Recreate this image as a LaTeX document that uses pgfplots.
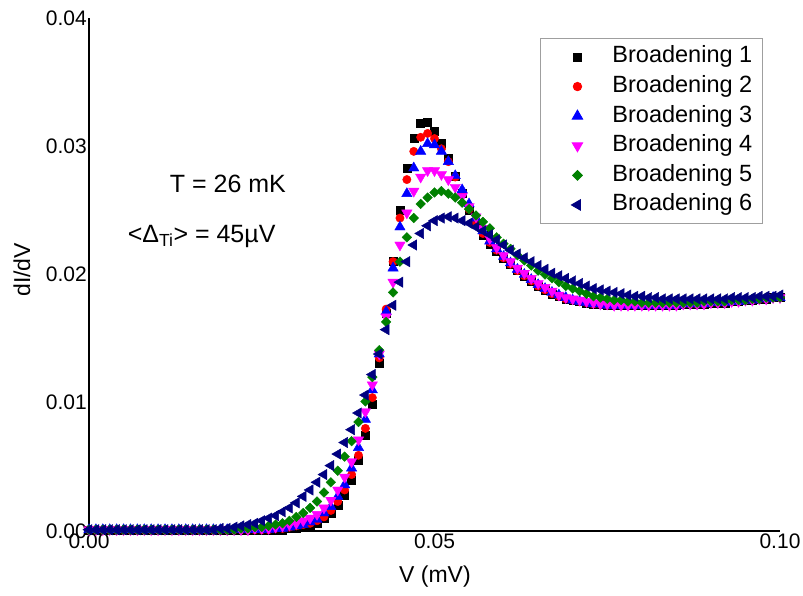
\documentclass[border=0pt]{standalone}
\usepackage{fontspec}
\setmainfont{Liberation Sans}
\usepackage{pgfplots}
\pgfplotsset{compat=1.18}
\usepackage{pgfplotstable}

\definecolor{mgreen}{RGB}{0,128,0}
\definecolor{mnavy}{RGB}{0,0,128}
\definecolor{mmag}{RGB}{255,0,255}

% dI/dV versus bias V (mV) for six broadening values
\pgfplotstableread{
x     b1     b2     b3     b4     b5     b6
0.000 0.0001 0.0001 0.0001 0.0001 0.0001 0.0001
0.001 0.0001 0.0001 0.0001 0.0001 0.0001 0.0001
0.002 0.0001 0.0001 0.0001 0.0001 0.0001 0.0001
0.003 0.0001 0.0001 0.0001 0.0001 0.0001 0.0001
0.004 0.0001 0.0001 0.0001 0.0001 0.0001 0.0001
0.005 0.0001 0.0001 0.0001 0.0001 0.0001 0.0001
0.006 0.0001 0.0001 0.0001 0.0001 0.0001 0.0001
0.007 0.0001 0.0001 0.0001 0.0001 0.0001 0.0001
0.008 0.0001 0.0001 0.0001 0.0001 0.0001 0.0001
0.009 0.0001 0.0001 0.0001 0.0001 0.0001 0.0001
0.010 0.0001 0.0001 0.0001 0.0001 0.0001 0.0001
0.011 0.0001 0.0001 0.0001 0.0001 0.0001 0.0001
0.012 0.0001 0.0001 0.0001 0.0001 0.0001 0.0001
0.013 0.0001 0.0001 0.0001 0.0001 0.0001 0.0001
0.014 0.0001 0.0001 0.0001 0.0001 0.0001 0.0001
0.015 0.0001 0.0001 0.0001 0.0001 0.0001 0.0001
0.016 0.0001 0.0001 0.0001 0.0001 0.0001 0.0001
0.017 0.0001 0.0001 0.0001 0.0001 0.0001 0.0001
0.018 0.0001 0.0001 0.0001 0.0001 0.0001 0.0001
0.019 0.0001 0.0001 0.0001 0.0001 0.0001 0.0002
0.020 0.0001 0.0001 0.0001 0.0001 0.0001 0.0002
0.021 0.0001 0.0001 0.0001 0.0001 0.0001 0.0003
0.022 0.0001 0.0001 0.0001 0.0001 0.0002 0.0004
0.023 0.0001 0.0001 0.0001 0.0001 0.0002 0.0005
0.024 0.0001 0.0001 0.0001 0.0002 0.0003 0.0006
0.025 0.0001 0.0001 0.0001 0.0002 0.0003 0.0008
0.026 0.0001 0.0001 0.0001 0.0002 0.0004 0.0010
0.027 0.0001 0.0002 0.0002 0.0003 0.0005 0.0012
0.028 0.0001 0.0002 0.0002 0.0004 0.0006 0.0015
0.029 0.0002 0.0003 0.0003 0.0005 0.0008 0.0018
0.030 0.0002 0.0004 0.0004 0.0006 0.0011 0.0022
0.031 0.0003 0.0005 0.0005 0.0008 0.0014 0.0027
0.032 0.0004 0.0006 0.0007 0.0010 0.0018 0.0032
0.033 0.0006 0.0008 0.0009 0.0013 0.0023 0.0038
0.034 0.0010 0.0011 0.0014 0.0018 0.0030 0.0044
0.035 0.0014 0.0016 0.0019 0.0024 0.0038 0.0051
0.036 0.0020 0.0023 0.0027 0.0032 0.0047 0.0060
0.037 0.0028 0.0032 0.0036 0.0042 0.0058 0.0069
0.038 0.0040 0.0044 0.0049 0.0054 0.0070 0.0079
0.039 0.0055 0.0059 0.0065 0.0071 0.0085 0.0092
0.040 0.0075 0.0080 0.0087 0.0093 0.0101 0.0106
0.041 0.0099 0.0104 0.0110 0.0114 0.0120 0.0122
0.042 0.0131 0.0135 0.0138 0.0138 0.0141 0.0138
0.043 0.0170 0.0173 0.0171 0.0167 0.0163 0.0157
0.044 0.0210 0.0210 0.0205 0.0194 0.0186 0.0176
0.045 0.0250 0.0244 0.0237 0.0223 0.0210 0.0194
0.046 0.0283 0.0274 0.0263 0.0248 0.0229 0.0210
0.047 0.0306 0.0296 0.0283 0.0265 0.0244 0.0223
0.048 0.0318 0.0307 0.0296 0.0276 0.0255 0.0232
0.049 0.0319 0.0310 0.0302 0.0281 0.0260 0.0238
0.050 0.0312 0.0306 0.0301 0.0281 0.0264 0.0242
0.051 0.0302 0.0298 0.0296 0.0278 0.0265 0.0244
0.052 0.0291 0.0288 0.0288 0.0274 0.0263 0.0245
0.053 0.0277 0.0276 0.0277 0.0268 0.0260 0.0244
0.054 0.0263 0.0263 0.0266 0.0261 0.0256 0.0242
0.055 0.0250 0.0251 0.0255 0.0253 0.0251 0.0240
0.056 0.0240 0.0241 0.0244 0.0245 0.0246 0.0237
0.057 0.0231 0.0232 0.0234 0.0236 0.0241 0.0234
0.058 0.0224 0.0225 0.0226 0.0228 0.0236 0.0231
0.059 0.0218 0.0219 0.0220 0.0221 0.0229 0.0227
0.060 0.0213 0.0213 0.0214 0.0215 0.0224 0.0223
0.061 0.0208 0.0208 0.0209 0.0210 0.0220 0.0219
0.062 0.0203 0.0203 0.0204 0.0205 0.0215 0.0216
0.063 0.0199 0.0199 0.0200 0.0201 0.0211 0.0213
0.064 0.0195 0.0195 0.0196 0.0197 0.0207 0.0210
0.065 0.0191 0.0191 0.0192 0.0193 0.0203 0.0207
0.066 0.0188 0.0188 0.0189 0.0190 0.0200 0.0204
0.067 0.0185 0.0185 0.0186 0.0187 0.0197 0.0201
0.068 0.0183 0.0183 0.0184 0.0184 0.0194 0.0199
0.069 0.0181 0.0181 0.0182 0.0182 0.0191 0.0197
0.070 0.0180 0.0180 0.0180 0.0181 0.0189 0.0195
0.071 0.0179 0.0179 0.0179 0.0180 0.0187 0.0193
0.072 0.0178 0.0178 0.0178 0.0179 0.0185 0.0191
0.073 0.0177 0.0177 0.0177 0.0178 0.0183 0.0189
0.074 0.0177 0.0177 0.0177 0.0177 0.0182 0.0188
0.075 0.0176 0.0176 0.0176 0.0177 0.0181 0.0187
0.076 0.0176 0.0176 0.0176 0.0176 0.0180 0.0186
0.077 0.0176 0.0176 0.0176 0.0176 0.0180 0.0185
0.078 0.0176 0.0176 0.0176 0.0176 0.0179 0.0184
0.079 0.0176 0.0176 0.0176 0.0176 0.0179 0.0183
0.080 0.0176 0.0176 0.0176 0.0176 0.0178 0.0183
0.081 0.0176 0.0176 0.0176 0.0176 0.0178 0.0182
0.082 0.0176 0.0176 0.0176 0.0176 0.0178 0.0182
0.083 0.0176 0.0176 0.0176 0.0176 0.0178 0.0181
0.084 0.0176 0.0176 0.0176 0.0176 0.0178 0.0181
0.085 0.0176 0.0176 0.0176 0.0176 0.0178 0.0181
0.086 0.0177 0.0177 0.0177 0.0177 0.0178 0.0181
0.087 0.0177 0.0177 0.0177 0.0177 0.0178 0.0181
0.088 0.0177 0.0177 0.0177 0.0177 0.0178 0.0181
0.089 0.0177 0.0177 0.0177 0.0177 0.0179 0.0181
0.090 0.0178 0.0178 0.0178 0.0178 0.0179 0.0181
0.091 0.0178 0.0178 0.0178 0.0178 0.0179 0.0181
0.092 0.0178 0.0178 0.0178 0.0178 0.0179 0.0181
0.093 0.0179 0.0179 0.0179 0.0179 0.0180 0.0182
0.094 0.0179 0.0179 0.0179 0.0179 0.0180 0.0182
0.095 0.0180 0.0180 0.0180 0.0180 0.0180 0.0182
0.096 0.0180 0.0180 0.0180 0.0180 0.0181 0.0182
0.097 0.0181 0.0181 0.0181 0.0181 0.0181 0.0183
0.098 0.0181 0.0181 0.0181 0.0181 0.0182 0.0183
0.099 0.0182 0.0182 0.0182 0.0182 0.0182 0.0183
0.100 0.0182 0.0182 0.0182 0.0182 0.0182 0.0184
}\dIdV

\begin{document}
\begin{tikzpicture}
\begin{axis}[
  scale only axis,
  width=691bp, height=513bp,
  xmin=0, xmax=0.1, ymin=0, ymax=0.04,
  axis x line=bottom, axis y line=left,
  axis line style={-, line width=2.5bp},
  major tick length=0pt,
  xtick={0,0.05,0.1},
  ytick={0,0.01,0.02,0.03,0.04},
  scaled ticks=false,
  /pgf/number format/fixed,
  /pgf/number format/fixed zerofill,
  /pgf/number format/precision=2,
  /pgf/number format/assume math mode=true,
  tick label style={font=\fontsize{21bp}{25bp}\selectfont},
  xticklabel style={anchor=north, inner sep=0pt, yshift=-3bp},
  yticklabel style={anchor=east, inner sep=0pt, xshift=-2bp},
  xlabel={V (mV)},
  ylabel={dI/dV},
  label style={font=\fontsize{23bp}{27bp}\selectfont},
  xlabel style={at={(axis description cs:0.5007,-0.0897)}, anchor=center},
  ylabel style={at={(axis description cs:-0.097,0.509)}, anchor=center},
  clip=false,
  legend cell align=left,
  legend style={
    at={(axis description cs:0.6527,0.961)}, anchor=north west,
    draw=gray!75, line width=0.9bp, fill=white,
    inner xsep=10bp, inner ysep=7.5bp, row sep=7.6bp,
    font=\fontsize{23.5bp}{28bp}\selectfont,
    nodes={inner sep=0bp, text height=17bp, text depth=5bp}},
  legend image code/.code={%
    \path[draw=none, fill=none] (0bp,-5bp) rectangle (62bp,5bp);
    \draw[mark repeat=2,mark phase=2,#1] plot coordinates {(0bp,0bp) (27bp,0bp) (54bp,0bp)};},
]
\addplot[only marks, black, mark=square*, mark size=4bp,
  mark options={draw=black, fill=black}] table[x=x, y=b1] {\dIdV};
\addlegendentry{Broadening 1}
\addplot[only marks, red, mark=*, mark size=4.2bp,
  mark options={draw=red, fill=red}] table[x=x, y=b2] {\dIdV};
\addlegendentry{Broadening 2}
\addplot[only marks, blue, mark=triangle*, mark size=6bp,
  mark options={draw=blue, fill=blue}] table[x=x, y=b3] {\dIdV};
\addlegendentry{Broadening 3}
\addplot[only marks, mmag, mark=triangle*, mark size=6bp,
  mark options={draw=mmag, fill=mmag, rotate=180}] table[x=x, y=b4] {\dIdV};
\addlegendentry{Broadening 4}
\addplot[only marks, mgreen, mark=square*, mark size=3.4bp,
  mark options={draw=mgreen, fill=mgreen, rotate=45}] table[x=x, y=b5] {\dIdV};
\addlegendentry{Broadening 5}
\addplot[only marks, mnavy, mark=triangle*, mark size=6bp,
  mark options={draw=mnavy, fill=mnavy, rotate=90}] table[x=x, y=b6] {\dIdV};
\addlegendentry{Broadening 6}

\node[anchor=base, font=\fontsize{25bp}{29bp}\selectfont]
  at (axis cs:0.0201,0.02643) {T = 26 mK};
\node[anchor=base, font=\fontsize{25bp}{29bp}\selectfont]
  at (axis cs:0.0163,0.02253) {<Δ\textsubscript{Ti}> = 45µV};
\end{axis}
\pgfresetboundingbox
\path[use as bounding box] (-89bp,-65bp) rectangle (714bp,531bp);
\end{tikzpicture}
\end{document}
